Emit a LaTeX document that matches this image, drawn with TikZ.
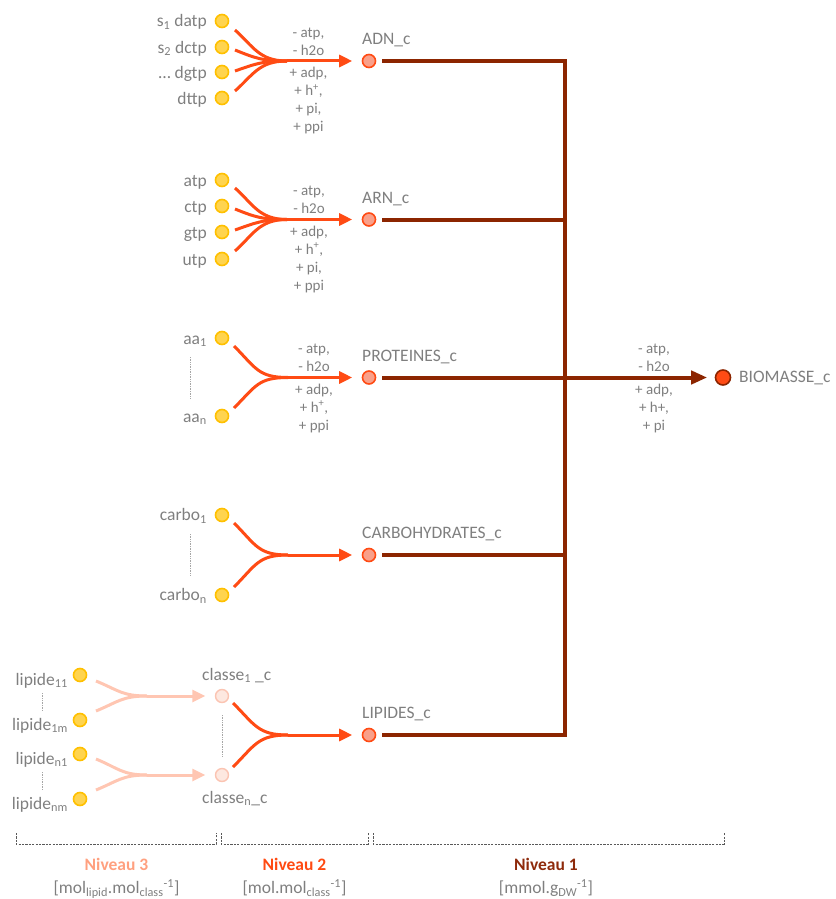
\documentclass[tikz,border=0pt]{standalone}
\usepackage{fontspec}
\setmainfont{Carlito}
\usetikzlibrary{arrows.meta,calc}
\definecolor{txtgray}{HTML}{7F7F7F}
\definecolor{ylwfill}{HTML}{FFD44F}
\definecolor{ylwdraw}{HTML}{FFC000}
\definecolor{orng}{HTML}{FF4B14}
\definecolor{salmon}{HTML}{F9A08A}
\definecolor{drkred}{HTML}{8C2500}
\definecolor{lpink}{HTML}{FFC6B2}
\definecolor{pfill}{HTML}{FDE8E0}
\definecolor{pdraw}{HTML}{FBC4B2}
\definecolor{lvlthree}{HTML}{FFA07F}
\definecolor{lvltwo}{HTML}{FF4A12}
\definecolor{lvlone}{HTML}{8E2A0B}
\tikzset{
  ymet/.style={circle, fill=ylwfill, draw=ylwdraw, line width=1.6pt, minimum size=13pt, inner sep=0pt},
  prod/.style={circle, fill=salmon, draw=orng, line width=1.6pt, minimum size=13pt, inner sep=0pt},
  cls/.style={circle, fill=pfill, draw=pdraw, line width=1.4pt, minimum size=13pt, inner sep=0pt},
  bio/.style={circle, fill=orng, draw=drkred, line width=1.6pt, minimum size=15pt, inner sep=0pt},
  lbl/.style={text=txtgray, font=\fontsize{17.5}{21}\selectfont, inner sep=0pt},
  sto/.style={text=txtgray, font=\fontsize{15}{18}\selectfont, align=center, inner sep=0pt},
  rx/.style={draw=orng, line width=3pt},
  rxar/.style={rx, -{Triangle[length=13pt,width=12pt]}, shorten >=9.5pt},
  lrx/.style={draw=lpink, line width=3pt},
  lrxar/.style={lrx, -{Triangle[length=13pt,width=12pt]}, shorten >=9.5pt},
  dk/.style={draw=drkred, line width=4pt},
  dkar/.style={dk, -{Triangle[length=16pt,width=13pt]}, shorten >=7.5pt},
  dotl/.style={draw=black!35, line width=0.7pt, dash pattern=on 0.7pt off 1pt},
  brk/.style={draw=black!65, line width=0.8pt, dash pattern=on 2.2pt off 1.2pt},
  niv/.style={font=\bfseries\fontsize{17.5}{21}\selectfont, inner sep=0pt},
  unit/.style={text=txtgray, font=\fontsize{17.5}{21}\selectfont, inner sep=0pt}
}
\begin{document}
\begin{tikzpicture}[x=1pt,y=-1pt]
\useasboundingbox (0,0) rectangle (835,899);

% ---------------- ADN ----------------
\node[ymet] (d1) at (222,21) {};
\node[ymet] (d2) at (222,47) {};
\node[ymet] (d3) at (222,72) {};
\node[ymet] (d4) at (222,98) {};
\node[lbl,anchor=base east] (d1t) at (207,27) {s\textsubscript{1} datp};
\node[lbl,anchor=base east] (d2t) at (207,53) {s\textsubscript{2} dctp};
\node[lbl,anchor=base east] (d3t) at (207,78) {… dgtp};
\node[lbl,anchor=base east] (d4t) at (207,104) {dttp};
\node[prod] (adn) at (369,61) {};
\node[lbl,anchor=base west] (adnt) at (362,44.5) {ADN\_c};
\coordinate (mA) at (287,61);
\draw[rx] ($(d1)+(13,9)$) .. controls +(18,16) and +(-28,0) .. (mA);
\draw[rx] ($(d2)+(13,3)$) .. controls +(20,8) and +(-25,0) .. (mA);
\draw[rx] ($(d3)+(13,-1)$) .. controls +(20,-7) and +(-25,0) .. (mA);
\draw[rx] ($(d4)+(13,-7)$) .. controls +(18,-16) and +(-28,0) .. (mA);
\draw[rxar] (mA) -- (adn);
\node[sto,anchor=north] (sA1) at (308.5,24.4) {\strut- atp,\\- h2o};
\node[sto,anchor=north] (sA2) at (308.5,64.9) {\strut+ adp,\\+ h\textsuperscript{+},\\+ pi,\\+ ppi};

% ---------------- ARN ----------------
\node[ymet] (r1) at (222,180) {};
\node[ymet] (r2) at (222,206) {};
\node[ymet] (r3) at (222,232) {};
\node[ymet] (r4) at (222,259) {};
\node[lbl,anchor=base east] (r1t) at (207,186) {atp};
\node[lbl,anchor=base east] (r2t) at (207,212) {ctp};
\node[lbl,anchor=base east] (r3t) at (207,238) {gtp};
\node[lbl,anchor=base east] (r4t) at (207,265) {utp};
\node[prod] (arn) at (369,219.5) {};
\node[lbl,anchor=base west] (arnt) at (362,203) {ARN\_c};
\coordinate (mR) at (287,219.5);
\draw[rx] ($(r1)+(13,8)$) .. controls +(18,16) and +(-28,0) .. (mR);
\draw[rx] ($(r2)+(13,3)$) .. controls +(20,8) and +(-25,0) .. (mR);
\draw[rx] ($(r3)+(13,-2)$) .. controls +(20,-7) and +(-25,0) .. (mR);
\draw[rx] ($(r4)+(13,-8)$) .. controls +(18,-16) and +(-28,0) .. (mR);
\draw[rxar] (mR) -- (arn);
\node[sto,anchor=north] (sR1) at (309,182.9) {\strut- atp,\\- h2o};
\node[sto,anchor=north] (sR2) at (309,223.4) {\strut+ adp,\\+ h\textsuperscript{+},\\+ pi,\\+ ppi};

% ---------------- PROTEINES ----------------
\node[ymet] (a1) at (222,338) {};
\node[ymet] (an) at (222,416) {};
\node[lbl,anchor=base east] (a1t) at (207,344) {aa\textsubscript{1}};
\node[lbl,anchor=base east] (ant) at (207,422) {aa\textsubscript{n}};
\draw[dotl] (190,357) -- (190,398);
\node[prod] (pro) at (369,377.5) {};
\node[lbl,anchor=base west] (prot) at (362,361) {PROTEINES\_c};
\coordinate (mP) at (288,377.5);
\draw[rx] ($(a1)+(12,8)$) .. controls +(22,22) and +(-30,0) .. (mP);
\draw[rx] ($(an)+(12,-8)$) .. controls +(22,-22) and +(-30,0) .. (mP);
\draw[rxar] (mP) -- (pro);
\node[sto,anchor=north] (sP1) at (314,340.9) {\strut- atp,\\- h2o};
\node[sto,anchor=north] (sP2) at (314,381.4) {\strut+ adp,\\+ h\textsuperscript{+},\\+ ppi};

% ---------------- CARBOHYDRATES ----------------
\node[ymet] (cb1) at (222,515) {};
\node[ymet] (cbn) at (222,595) {};
\node[lbl,anchor=base east] (cb1t) at (207,520.5) {carbo\textsubscript{1}};
\node[lbl,anchor=base east] (cbnt) at (207,600.5) {carbo\textsubscript{n}};
\draw[dotl] (190,534) -- (190,575);
\node[prod] (carb) at (369,555) {};
\node[lbl,anchor=base west] (carbt) at (362,538.5) {CARBOHYDRATES\_c};
\coordinate (mC) at (288,555);
\draw[rx] ($(cb1)+(12,8)$) .. controls +(22,22) and +(-30,0) .. (mC);
\draw[rx] ($(cbn)+(12,-8)$) .. controls +(22,-22) and +(-30,0) .. (mC);
\draw[rxar] (mC) -- (carb);

% ---------------- LIPIDES ----------------
\node[ymet] (l11) at (80,675) {};
\node[ymet] (l1m) at (80,720) {};
\node[ymet] (ln1) at (80,754) {};
\node[ymet] (lnm) at (80,799) {};
\node[lbl,anchor=base east] (l11t) at (68,685) {lipide\textsubscript{11}};
\node[lbl,anchor=base east] (l1mt) at (68,730) {lipide\textsubscript{1m}};
\node[lbl,anchor=base east] (ln1t) at (68,764) {lipide\textsubscript{n1}};
\node[lbl,anchor=base east] (lnmt) at (68,809) {lipide\textsubscript{nm}};
\draw[dotl] (42,693) -- (42,711);
\draw[dotl] (42,772) -- (42,790);
\node[cls] (c1) at (222,696) {};
\node[cls] (cn) at (222,775) {};
\node[lbl,anchor=base west] (c1t) at (202,680) {classe\textsubscript{1} \_c};
\node[lbl,anchor=base west] (cnt) at (202,803) {classe\textsubscript{n}\_c};
\draw[dotl] (222,715) -- (222,756);
\coordinate (mL1) at (147,696);
\coordinate (mL2) at (147,775);
\draw[lrx] ($(l11)+(16,6)$) .. controls +(22,9) and +(-25,0) .. (mL1);
\draw[lrx] ($(l1m)+(16,-9)$) .. controls +(22,-9) and +(-25,0) .. (mL1);
\draw[lrxar] (mL1) -- (c1);
\draw[lrx] ($(ln1)+(16,5)$) .. controls +(22,9) and +(-25,0) .. (mL2);
\draw[lrx] ($(lnm)+(16,-9)$) .. controls +(22,-9) and +(-25,0) .. (mL2);
\draw[lrxar] (mL2) -- (cn);
\node[prod] (lip) at (369,735) {};
\node[lbl,anchor=base west] (lipt) at (362,718.5) {LIPIDES\_c};
\coordinate (mLp) at (288,735);
\draw[rx] ($(c1)+(11,7)$) .. controls +(22,22) and +(-30,0) .. (mLp);
\draw[rx] ($(cn)+(11,-8)$) .. controls +(22,-22) and +(-30,0) .. (mLp);
\draw[rxar] (mLp) -- (lip);

% ---------------- Niveau 1 ----------------
\coordinate (j1) at (565,61);
\coordinate (j2) at (565,219.5);
\coordinate (j3) at (565,377.5);
\coordinate (j4) at (565,555);
\coordinate (j5) at (565,735);
\draw[dk, shorten <=6pt, shorten >=6pt] (adn) -- (j1) -- (j5) -- (lip);
\draw[dk, shorten <=6pt] (arn) -- (j2);
\draw[dk, shorten <=6pt] (pro) -- (j3);
\draw[dk, shorten <=6pt] (carb) -- (j4);
\node[bio] (bio) at (723,377.5) {};
\node[lbl,anchor=base west] (biot) at (739,382) {BIOMASSE\_c};
\draw[dkar] (j3) -- (bio);
\node[sto,anchor=north] (sB1) at (654,340.9) {\strut- atp,\\- h2o};
\node[sto,anchor=north] (sB2) at (654,381.4) {\strut+ adp,\\+ h+,\\+ pi};

% ---------------- Brackets / levels ----------------
\draw[brk] (16,833) -- (16,844) -- (216,844) -- (216,833);
\draw[brk] (221,833) -- (221,844) -- (368,844) -- (368,833);
\draw[brk] (373,833) -- (373,844) -- (724,844) -- (724,833);
\node[niv,text=lvlthree,anchor=base] (n3) at (116.5,870.5) {Niveau 3};
\node[niv,text=lvltwo,anchor=base] (n2) at (294.5,870.5) {Niveau 2};
\node[niv,text=lvlone,anchor=base] (n1) at (546,870.5) {Niveau 1};
\node[unit,anchor=base] (u3) at (116.5,893.5) {[mol\textsubscript{lipid}.mol\textsubscript{class}\textsuperscript{-1}]};
\node[unit,anchor=base] (u2) at (294.5,893.5) {[mol.mol\textsubscript{class}\textsuperscript{-1}]};
\node[unit,anchor=base] (u1) at (546,893.5) {[mmol.g\textsubscript{DW}\textsuperscript{-1}]};
\end{tikzpicture}
\end{document}
